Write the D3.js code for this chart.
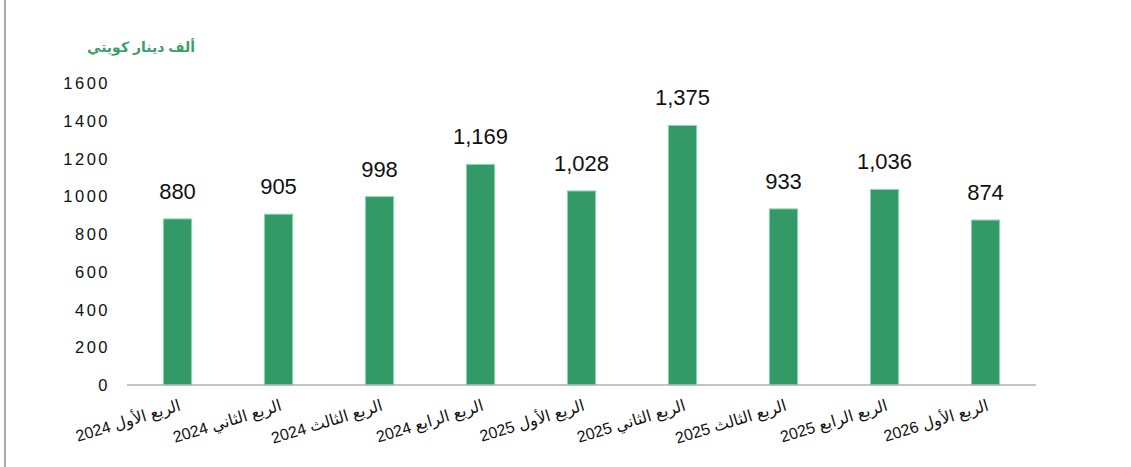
<!DOCTYPE html>
<html>
<head>
<meta charset="utf-8">
<script src="https://cdn.jsdelivr.net/npm/d3@7"></script>
<style>
  body { margin: 0; background: #fff; }
  svg text { font-family: "Liberation Sans", "DejaVu Sans", sans-serif; }
</style>
</head>
<body>
<div id="chart"></div>
<script>
const width = 1131;
const height = 467;

// quarters and values (thousand KWD)
const quarters = [
  'الربع الأول 2024', 'الربع الثاني 2024', 'الربع الثالث 2024', 'الربع الرابع 2024',
  'الربع الأول 2025', 'الربع الثاني 2025', 'الربع الثالث 2025', 'الربع الرابع 2025',
  'الربع الأول 2026'
];
const values = [880, 905, 998, 1169, 1028, 1375, 933, 1036, 874];
const yTicks = [0, 200, 400, 600, 800, 1000, 1200, 1400, 1600];
const unitLabel = 'ألف دينار كويتي';

const data = quarters.map((q, i) => ({ quarter: q, value: values[i] }));

const svg = d3.select('#chart')
  .append('svg')
  .attr('width', width)
  .attr('height', height);

// left frame line
svg.append('line')
  .attr('x1', 5).attr('x2', 5)
  .attr('y1', 0).attr('y2', height)
  .attr('stroke', '#8c8c8c')
  .attr('stroke-width', 1.5);

// scales
const x = d3.scaleBand()
  .domain(quarters)
  .range([127, 1036])
  .paddingInner(0.72)
  .paddingOuter(0.36);

const y = d3.scaleLinear()
  .domain([0, 1600])
  .range([385, 83]);

// y axis labels
svg.append('g')
  .selectAll('text')
  .data(yTicks)
  .join('text')
  .attr('x', 110)
  .attr('y', d => y(d) + 6)
  .attr('text-anchor', 'end')
  .style('font-size', '16.5px')
  .style('letter-spacing', '2.5px')
  .style('fill', '#111')
  .text(d => d);

// bars
svg.append('g')
  .selectAll('rect')
  .data(data)
  .join('rect')
  .attr('x', d => x(d.quarter))
  .attr('y', d => y(d.value))
  .attr('width', x.bandwidth())
  .attr('height', d => y(0) - y(d.value))
  .attr('fill', '#339966')
  .attr('stroke', '#8fd6b8')
  .attr('stroke-width', 1);

// baseline
svg.append('line')
  .attr('x1', 127).attr('x2', 1036)
  .attr('y1', y(0)).attr('y2', y(0))
  .attr('stroke', '#b0b0b0')
  .attr('stroke-width', 1.5);

// value labels
svg.append('g')
  .selectAll('text')
  .data(data)
  .join('text')
  .attr('x', d => x(d.quarter) + x.bandwidth() / 2)
  .attr('y', d => y(d.value) - 20)
  .attr('text-anchor', 'middle')
  .style('font-size', '22px')
  .style('fill', '#111')
  .text(d => d3.format(',')(d.value));

// category labels, slanted
svg.append('g')
  .selectAll('text')
  .data(data)
  .join('text')
  .attr('text-anchor', 'end')
  .attr('transform', d => `translate(${x(d.quarter) + x.bandwidth() / 2 + 4}, 410) rotate(-17)`)
  .style('font-size', '16px')
  .style('fill', '#111')
  .text(d => d.quarter);

// unit label
svg.append('text')
  .attr('x', 141)
  .attr('y', 52)
  .attr('text-anchor', 'middle')
  .style('font-size', '14px')
  .style('font-weight', 'bold')
  .style('fill', '#3a9e6c')
  .text(unitLabel);
</script>
</body>
</html>
